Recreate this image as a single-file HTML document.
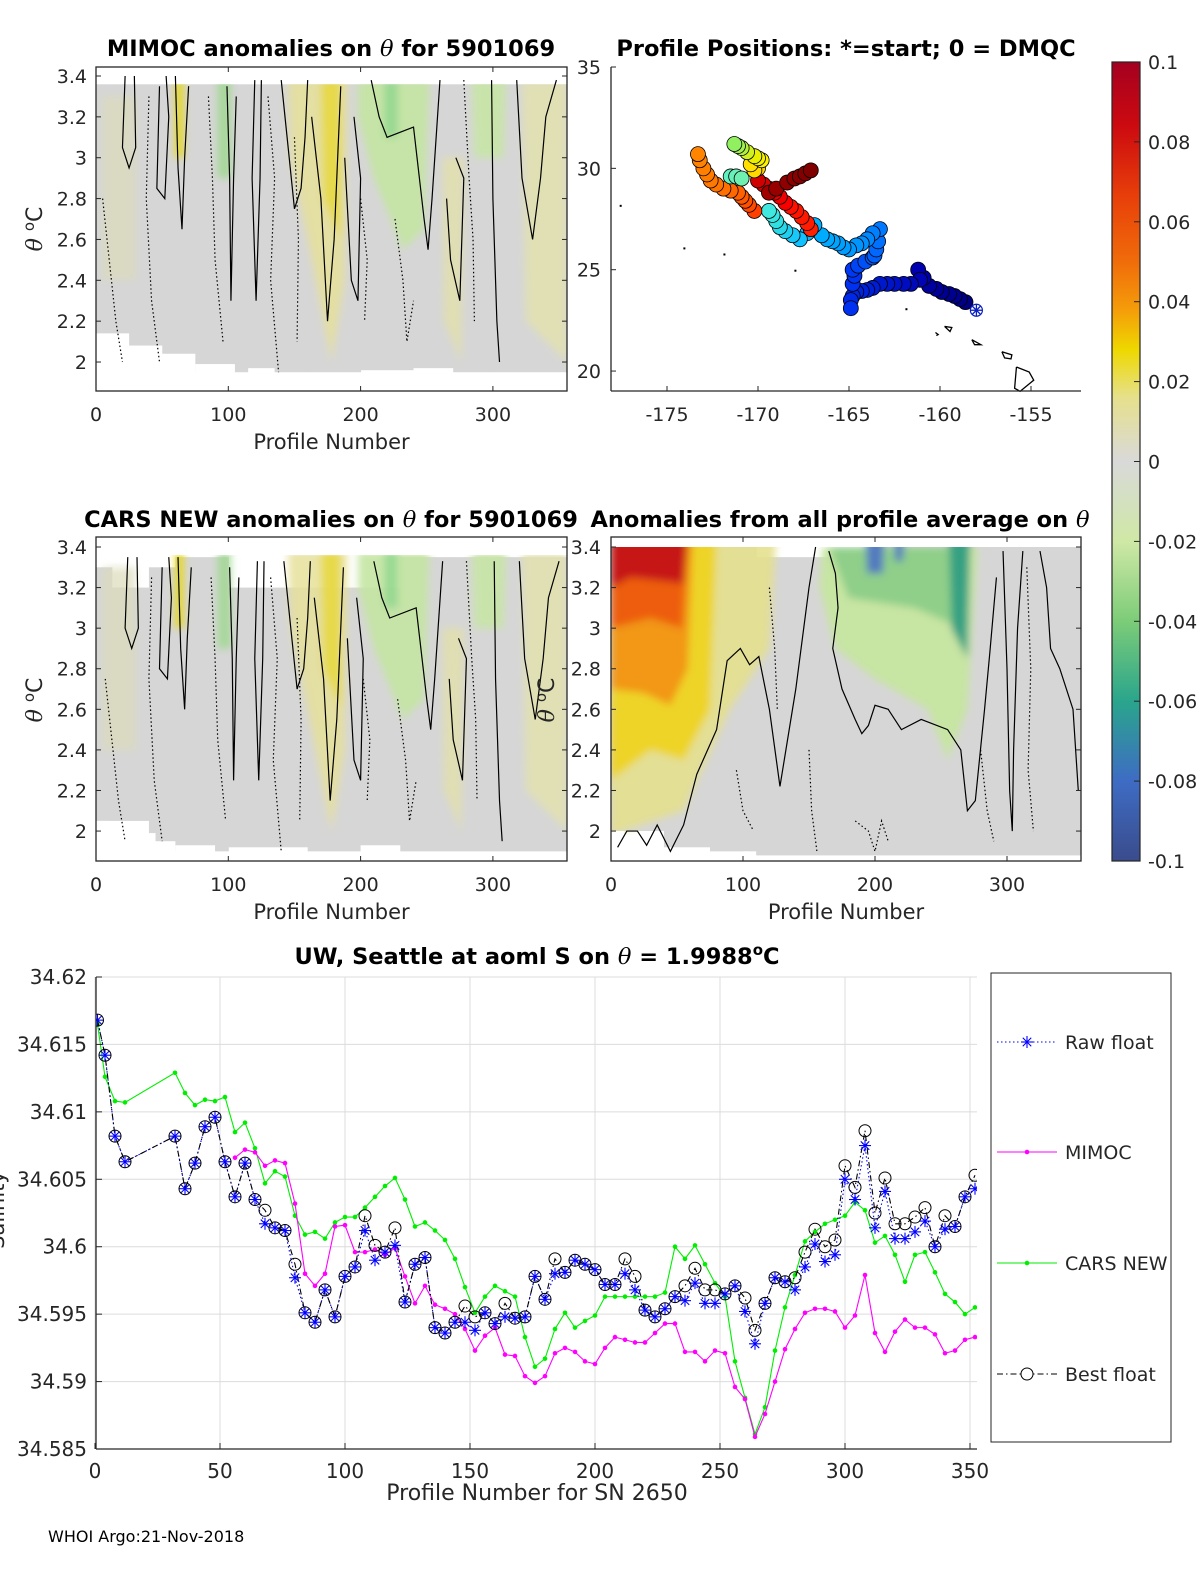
<!DOCTYPE html>
<html><head><meta charset="utf-8"><title>Argo float 5901069 QC figure</title>
<style>
html,body{margin:0;padding:0;background:#fff;}
svg{display:block;font-family:"DejaVu Sans","Liberation Sans",sans-serif;}
.tk{font-size:19px;fill:#262626;}
.ttl{font-size:22.5px;font-weight:bold;fill:#000;}
</style></head>
<body>
<svg id="fig" width="1200" height="1575" viewBox="0 0 1200 1575" xmlns="http://www.w3.org/2000/svg">
<defs>
<linearGradient id="cmap" x1="0" y1="0" x2="0" y2="1">
<stop offset="0" stop-color="#a50020"/><stop offset="0.08" stop-color="#cc0a10"/><stop offset="0.17" stop-color="#e8400a"/>
<stop offset="0.25" stop-color="#f06c0a"/><stop offset="0.31" stop-color="#f59c0a"/><stop offset="0.36" stop-color="#eed800"/>
<stop offset="0.42" stop-color="#e6e08c"/><stop offset="0.5" stop-color="#d9d9d9"/><stop offset="0.6" stop-color="#cfe8a6"/>
<stop offset="0.7" stop-color="#7ccc78"/><stop offset="0.8" stop-color="#2aa58c"/><stop offset="0.9" stop-color="#3e6cc4"/>
<stop offset="1" stop-color="#3a4c8c"/></linearGradient>
<filter id="blur4" x="-20%" y="-20%" width="140%" height="140%"><feGaussianBlur stdDeviation="4"/></filter>
<clipPath id="c1"><rect x="96" y="67" width="471" height="324"/></clipPath>
<clipPath id="c2"><rect x="96" y="537" width="471" height="324"/></clipPath>
<clipPath id="c4"><rect x="611" y="537" width="470" height="324"/></clipPath>
<clipPath id="c5"><rect x="96" y="977" width="881" height="472"/></clipPath>
</defs>
<g id="root"></g>
</svg>
<script>
// ---------- bottom salinity chart data ----------
const profiles = [1,4,8,12,32,36,40,44,48,52,56,60,64,68,72,76,80,84,88,92,96,100,104,108,112,116,120,124,128,132,136,140,144,148,152,156,160,164,168,172,176,180,184,188,192,196,200,204,208,212,216,220,224,228,232,236,240,244,248,252,256,260,264,268,272,276,280,284,288,292,296,300,304,308,312,316,320,324,328,332,336,340,344,348,352];
const bestFloat = [34.6168,34.6142,34.6082,34.6063,34.6082,34.6043,34.6062,34.6089,34.6096,34.6063,34.6037,34.6062,34.6035,34.6027,34.6014,34.6012,34.5987,34.5951,34.5944,34.5968,34.5948,34.5978,34.5985,34.6023,34.6001,34.5996,34.6014,34.5959,34.5987,34.5992,34.5940,34.5936,34.5944,34.5956,34.5948,34.5951,34.5943,34.5958,34.5947,34.5948,34.5978,34.5961,34.5991,34.5981,34.5990,34.5987,34.5983,34.5972,34.5972,34.5991,34.5978,34.5953,34.5948,34.5954,34.5963,34.5971,34.5984,34.5968,34.5968,34.5965,34.5971,34.5962,34.5938,34.5958,34.5977,34.5974,34.5977,34.5996,34.6013,34.6000,34.6005,34.6060,34.6044,34.6086,34.6025,34.6051,34.6017,34.6017,34.6022,34.6029,34.6000,34.6023,34.6015,34.6037,34.6053];
const rawFloat = [34.6168,34.6142,34.6082,34.6063,34.6082,34.6043,34.6062,34.6089,34.6096,34.6063,34.6037,34.6062,34.6035,34.6017,34.6014,34.6012,34.5977,34.5951,34.5944,34.5968,34.5948,34.5978,34.5985,34.6012,34.5990,34.5996,34.6001,34.5959,34.5987,34.5992,34.5940,34.5936,34.5944,34.5944,34.5938,34.5951,34.5943,34.5948,34.5947,34.5948,34.5978,34.5961,34.5980,34.5981,34.5990,34.5987,34.5983,34.5972,34.5972,34.5980,34.5968,34.5953,34.5948,34.5954,34.5963,34.5960,34.5973,34.5958,34.5958,34.5965,34.5971,34.5952,34.5928,34.5958,34.5977,34.5974,34.5968,34.5985,34.6002,34.5989,34.5994,34.6050,34.6035,34.6075,34.6014,34.6041,34.6006,34.6006,34.6011,34.6019,34.6000,34.6013,34.6015,34.6037,34.6043];
const carsNew = [34.6165,34.6126,34.6108,34.6107,34.6129,34.6114,34.6105,34.6109,34.6108,34.6111,34.6085,34.6092,34.6073,34.6047,34.6056,34.6052,34.6023,34.6009,34.6011,34.6006,34.6018,34.6022,34.6022,34.6029,34.6037,34.6045,34.6051,34.6035,34.6015,34.6018,34.6012,34.6005,34.5991,34.5970,34.5951,34.5963,34.5971,34.5967,34.5963,34.5933,34.5911,34.5917,34.5939,34.5951,34.5940,34.5945,34.5949,34.5963,34.5963,34.5963,34.5963,34.5963,34.5963,34.5966,34.6000,34.5991,34.6001,34.5987,34.5973,34.5963,34.5915,34.5888,34.5861,34.5881,34.5923,34.5955,34.5979,34.6004,34.6011,34.6017,34.6020,34.6023,34.6033,34.6027,34.6003,34.6008,34.5994,34.5974,34.5994,34.5996,34.5981,34.5965,34.5959,34.5950,34.5955];
const mimocProfiles = [56,60,64,68,72,76,80,84,88,92,96,100,104,108,112,116,120,124,128,132,136,140,144,148,152,156,160,164,168,172,176,180,184,188,192,196,200,204,208,212,216,220,224,228,232,236,240,244,248,252,256,260,264,268,272,276,280,284,288,292,296,300,304,308,312,316,320,324,328,332,336,340,344,348,352];
const mimoc = [34.6066,34.6072,34.6070,34.6060,34.6064,34.6062,34.6032,34.5980,34.5971,34.5980,34.6015,34.6016,34.5996,34.5996,34.5998,34.5994,34.5999,34.5978,34.5958,34.5971,34.5957,34.5954,34.5950,34.5939,34.5923,34.5934,34.5940,34.5920,34.5919,34.5904,34.5899,34.5904,34.5921,34.5925,34.5922,34.5915,34.5913,34.5925,34.5933,34.5931,34.5929,34.5929,34.5936,34.5943,34.5943,34.5922,34.5922,34.5915,34.5923,34.5921,34.5896,34.5887,34.5859,34.5876,34.5900,34.5924,34.5939,34.5951,34.5954,34.5954,34.5952,34.5940,34.5949,34.5979,34.5936,34.5922,34.5937,34.5946,34.5940,34.5940,34.5935,34.5921,34.5923,34.5931,34.5933];
const salXTicks = [0,50,100,150,200,250,300,350];
const salYTicks = [34.585,34.59,34.595,34.6,34.605,34.61,34.615,34.62];
const salYLabels = ["34.585","34.59","34.595","34.6","34.605","34.61","34.615","34.62"];

// ---------- map data ----------
const trackLon = [-158.6,-158.9,-159.2,-159.5,-159.9,-160.2,-160.6,-160.9,-161.2,-161.1,-161.6,-162.0,-162.5,-162.9,-163.3,-163.7,-164.0,-164.3,-164.6,-164.8,-164.9,-164.9,-164.8,-164.7,-164.8,-164.5,-164.1,-163.7,-163.6,-163.5,-163.4,-163.3,-163.7,-164.0,-164.3,-164.6,-165.0,-165.3,-165.6,-165.9,-166.2,-166.5,-166.9,-167.3,-167.7,-168.1,-168.5,-168.8,-169.0,-169.2,-169.4,-167.1,-167.3,-167.6,-167.9,-168.2,-168.5,-168.8,-169.1,-169.4,-169.7,-170.0,-170.2,-170.5,-170.7,-170.9,-171.1,-171.5,-171.9,-172.3,-172.6,-172.8,-173.0,-173.2,-173.3,-171.5,-171.2,-170.9,-170.0,-170.2,-170.4,-169.8,-170.0,-170.2,-170.6,-170.9,-171.1,-171.3,-169.4,-169.0,-168.4,-168.0,-167.7,-167.4,-167.1];
const trackLat = [23.4,23.55,23.7,23.8,23.9,24.05,24.2,24.6,25.0,24.5,24.3,24.3,24.3,24.3,24.3,24.1,24.0,23.95,23.9,23.7,23.5,23.1,24.3,24.7,25.0,25.2,25.4,25.6,25.7,26.0,26.4,27.0,26.8,26.5,26.3,26.2,26.0,26.1,26.3,26.4,26.5,26.7,27.2,26.8,26.5,26.7,26.9,27.1,27.4,27.7,27.9,27.0,27.3,27.6,27.9,28.1,28.3,28.6,28.8,29.0,29.2,29.4,27.9,28.2,28.4,28.6,28.8,28.9,29.0,29.2,29.4,29.7,30.0,30.4,30.7,29.6,29.6,29.5,30.0,29.9,30.2,30.4,30.5,30.6,30.8,31.0,31.1,31.2,28.8,29.0,29.3,29.5,29.6,29.75,29.9];
const trackColor = ["#00007e","#000084","#00008c","#00008e","#000090","#000098","#00009e","#0000a8","#0000b0","#0004b4","#0008b8","#000cc0","#0010c4","#0014c8","#0018cc","#001cd4","#0020d8","#0022dc","#0024e0","#0026e4","#0028e8","#0030f0","#0030f0","#0034f2","#0038f4","#0044f6","#0050f8","#0058fa","#0060fc","#0068fe","#0070ff","#0078ff","#0080ff","#0088ff","#0090ff","#0094ff","#0098ff","#009cff","#00a0ff","#00a4ff","#00a8ff","#00acff","#00b0ff","#08b8ff","#10c0ff","#18c8f8","#20d0f0","#28d8e8","#30e0e0","#38e4e0","#40e8e0","#ff2000","#ff1c00","#ff1800","#ff1400","#ff1000","#f80000","#f00000","#e80000","#e00000","#d80000","#d00000","#ff4000","#ff4800","#ff5000","#ff5800","#ff6000","#ff6800","#ff7000","#ff7400","#ff7800","#ff7c00","#ff8000","#ff8200","#ff8400","#60f0c0","#68f0b8","#70f0b0","#ffd000","#ffd800","#ffe000","#fff000","#f4f000","#e8f000","#d0f020","#b0f040","#a0f050","#90f060","#a00000","#980000","#900000","#8c0000","#880000","#840000","#800000"];
const latTicks = [20,25,30,35];
const lonTicks = [-175,-170,-165,-160,-155];

// ---------- heatmap panel descriptors (profile, theta units) ----------
const thetaTicks = [2,2.2,2.4,2.6,2.8,3,3.2,3.4];
const thetaLabels = ["2","2.2","2.4","2.6","2.8","3","3.2","3.4"];
const profTicks = [0,100,200,300];
const cbarTicks = [0.1,0.08,0.06,0.04,0.02,0,-0.02,-0.04,-0.06,-0.08,-0.1];
const cbarLabels = ["0.1","0.08","0.06","0.04","0.02","0","-0.02","-0.04","-0.06","-0.08","-0.1"];

const NS="http://www.w3.org/2000/svg";
const root=document.getElementById('root');
function mk(tag,attrs,parent){const e=document.createElementNS(NS,tag);for(const k in attrs)e.setAttribute(k,attrs[k]);(parent||root).appendChild(e);return e;}
function txt(x,y,s,cls,anchor,parent){const t=mk('text',{x:x,y:y,'class':cls,'text-anchor':anchor||'middle'},parent);t.textContent=s;return t;}

function panel(cfg){
  const g=mk('g',{});
  
  
  const X=p=>cfg.x0+p*cfg.kx, Y=t=>cfg.yTop34+(3.4-t)*cfg.ky;
  const inner=mk('g',{'clip-path':'url(#'+cfg.clip+')'},g);
  for(let i=0;i<cfg.cols.length;i++){
    const c=cfg.cols[i];
    const r=mk('rect',{x:X(c[0]),y:Y(c[2]),width:X(c[1])-X(c[0])+0.5,height:Y(c[3])-Y(c[2]),fill:'#d6d6d6'},inner);
    
    
  }
  const blobs=mk('g',{filter:'url(#blur4)'},inner);
  cfg.blobs.forEach(b=>{
    const pts=b.pts.map(q=>X(q[0])+','+Y(q[1])).join(' ');
    const pg=mk('polygon',{points:pts,fill:b.c,opacity:b.o},blobs);
    
    
  });
  cfg.masks.forEach(m=>{mk('rect',{x:X(m[0]),y:Y(m[2]),width:X(m[1])-X(m[0]),height:Y(m[3])-Y(m[2]),fill:'#fff'},inner);});
  cfg.contours.forEach(c=>{
    const pl=mk('polyline',{points:c.pts.map(q=>X(q[0])+','+Y(q[1])).join(' '),fill:'none',stroke:'#000','stroke-width':1.2,'stroke-dasharray':c.d?'1.5 2.5':'none'},inner);
    
    
  });
  const ax=mk('rect',{x:cfg.x0,y:cfg.top,width:cfg.w,height:324,fill:'none',stroke:'#262626','stroke-width':1.3},g);
  
  
  thetaTicks.forEach((t,i)=>{
    mk('line',{x1:cfg.x0,x2:cfg.x0+5,y1:Y(t),y2:Y(t),stroke:'#262626'},g);
    mk('line',{x1:cfg.x0+cfg.w,x2:cfg.x0+cfg.w-5,y1:Y(t),y2:Y(t),stroke:'#262626'},g);
    const l=txt(cfg.labX,Y(t)+7,thetaLabels[i],'tk','end',g);
    
    
  });
  profTicks.forEach(p=>{
    mk('line',{x1:X(p),x2:X(p),y1:cfg.top+324,y2:cfg.top+319,stroke:'#262626'},g);
    mk('line',{x1:X(p),x2:X(p),y1:cfg.top,y2:cfg.top+5,stroke:'#262626'},g);
    const l=txt(X(p),cfg.top+354,String(p),'tk','middle',g);
    
    
  });
  const xl=txt(cfg.x0+cfg.w/2,cfg.top+382,'Profile Number','tk','middle',g);
  xl.setAttribute('style','font-size:21px');
  
  
  return g;
}

const grayCols1=[[0,25,3.36,2.14],[25,50,3.36,2.08],[50,75,3.36,2.04],[75,105,3.36,1.95],[105,160,3.36,1.95],[160,200,3.36,1.95],[200,240,3.36,1.96],[240,300,3.36,1.95],[300,356,3.36,1.95]];
const masks1=[[0,356,3.45,3.36],[0,25,2.14,1.8],[25,50,2.08,1.8],[50,75,2.04,1.8],[75,105,1.99,1.8],[115,135,1.97,1.8],[240,270,1.97,1.8]];
const blobs1=[
 {pts:[[60,3.38],[66,3.38],[66,3.0],[60,3.0]],c:'#e8d800',o:0.9},
 {pts:[[92,3.38],[102,3.38],[102,2.9],[92,2.9]],c:'#9ad88a',o:0.8},
 {pts:[[145,3.38],[190,3.38],[188,2.4],[178,2.0],[160,2.6],[147,3.0]],c:'#e6e09a',o:0.85},
 {pts:[[170,3.38],[185,3.38],[185,2.6],[172,2.8]],c:'#e8d840',o:0.9},
 {pts:[[198,3.38],[252,3.38],[248,2.65],[232,2.55],[210,2.9],[198,3.2]],c:'#c4e6a2',o:0.9},
 {pts:[[218,3.38],[228,3.38],[228,3.1],[218,3.1]],c:'#8cd48c',o:0.8},
 {pts:[[262,3.0],[278,3.0],[276,2.0],[263,2.2]],c:'#e2e0aa',o:0.8},
 {pts:[[284,3.38],[310,3.38],[308,3.0],[286,3.0]],c:'#c8e6a6',o:0.9},
 {pts:[[322,3.38],[356,3.38],[356,2.0],[325,2.2]],c:'#e4e2ac',o:0.8},
 {pts:[[5,3.3],[30,3.3],[30,2.4],[5,2.4]],c:'#dcdcba',o:0.7}
];
const cont1=[
 {pts:[[22,3.4],[20,3.05],[25,2.95],[30,3.05],[29,3.4]]},{pts:[[48,3.35],[46,2.85],[52,2.8],[55,3.2],[53,3.4]]},
 {pts:[[60,3.4],[62,2.95],[65,2.65],[67,3.0],[70,3.35]]},{pts:[[99,3.35],[101,2.9],[102,2.3],[104,2.9],[106,3.3]]},
 {pts:[[120,3.38],[118,2.9],[121,2.3],[124,2.9],[125,3.38]]},{pts:[[140,3.38],[150,2.75],[155,2.85],[158,3.1],[160,3.38]]},
 {pts:[[163,3.2],[170,2.8],[175,2.2],[180,2.6],[185,3.35]]},{pts:[[188,3.0],[193,2.4],[198,2.3],[200,2.9],[195,3.2]]},
 {pts:[[208,3.38],[214,3.2],[220,3.1],[240,3.15],[248,2.7],[251,2.55],[254,2.8],[260,3.38]]},
 {pts:[[265,2.8],[268,2.5],[275,2.3],[278,2.9],[272,3.0]]},{pts:[[299,3.38],[300,2.8],[303,2.2],[305,2.0]]},
 {pts:[[318,3.38],[322,2.9],[330,2.6],[336,2.9],[340,3.2],[348,3.38]]},
 {pts:[[5,2.8],[10,2.5],[15,2.2],[20,2.0]],d:1},{pts:[[40,3.3],[38,2.8],[42,2.3],[48,2.0]],d:1},
 {pts:[[85,3.3],[88,2.9],[90,2.5],[96,2.1]],d:1},{pts:[[130,3.3],[135,2.9],[132,2.4],[138,1.95]],d:1},
 {pts:[[150,3.1],[153,2.6],[152,2.1]],d:1},{pts:[[226,2.7],[232,2.4],[235,2.1],[240,2.3]],d:1},
 {pts:[[278,3.38],[282,2.9],[285,2.6],[286,2.2]],d:1},{pts:[[200,2.8],[205,2.5],[203,2.2]],d:1}
];
root.appendChild(panel({name:'mimoc-anomaly-panel',x0:96,kx:1.323,yTop34:76,ky:204.3,top:67,w:471,clip:'c1',labX:87,cols:grayCols1,masks:masks1,blobs:blobs1,contours:cont1}));

const grayCols2=[[0,12,3.3,2.05],[12,40,3.2,2.05],[40,60,3.3,1.95],[60,100,3.35,1.9],[100,160,3.2,1.92],[160,230,3.2,1.9],[230,270,3.35,1.9],[270,356,3.35,1.9]];
const masks2=[[0,356,3.45,3.36],[0,10,2.05,1.8],[10,45,1.99,1.8],[60,90,1.93,1.8],[200,230,1.93,1.8]];
const blobs2=blobs1.map(b=>({pts:b.pts,c:b.c,o:b.o}));
const cont2=cont1.map(c=>({pts:c.pts.map(q=>[q[0]+2,q[1]-0.05]),d:c.d}));
root.appendChild(panel({name:'cars-anomaly-panel',x0:96,kx:1.323,yTop34:547,ky:202.9,top:537,w:471,clip:'c2',labX:87,cols:grayCols2,masks:masks2,blobs:blobs2,contours:cont2}));

const grayCols4=[[0,40,3.4,2.0],[40,75,3.4,1.92],[75,110,3.4,1.9],[110,200,3.35,1.88],[200,290,3.4,1.88],[290,356,3.4,1.88]];
const masks4=[[0,356,3.45,3.4],[0,10,2.0,1.8],[10,20,1.98,1.8],[20,40,2.0,1.8],[100,105,1.9,1.8],[140,160,1.86,1.8]];
const blobs4=[
 {pts:[[0,3.44],[125,3.44],[120,2.9],[90,2.6],[55,2.1],[0,1.98]],c:'#e4e08e',o:0.9},
 {pts:[[0,3.44],[80,3.44],[75,2.6],[55,2.35],[30,2.4],[0,2.25]],c:'#eed320',o:0.95},
 {pts:[[0,3.44],[62,3.44],[58,2.8],[45,2.62],[25,2.68],[0,2.7]],c:'#f29418',o:0.95},
 {pts:[[0,3.44],[58,3.44],[54,3.0],[30,3.05],[0,3.0]],c:'#ec5a10',o:0.95},
 {pts:[[0,3.44],[58,3.44],[55,3.22],[15,3.25],[0,3.2]],c:'#c4101a',o:0.95},
 {pts:[[160,3.4],[278,3.4],[270,2.6],[255,2.35],[240,2.6],[200,2.75],[170,2.9],[158,3.2]],c:'#c6e6a0',o:0.95},
 {pts:[[165,3.4],[272,3.4],[266,3.0],[230,3.1],[180,3.15]],c:'#8ccf88',o:0.95},
 {pts:[[256,3.44],[272,3.44],[270,2.85],[258,3.0]],c:'#2f9e82',o:0.95},
 {pts:[[193,3.44],[207,3.44],[206,3.27],[194,3.27]],c:'#4b70c4',o:0.9},
 {pts:[[215,3.44],[222,3.44],[221,3.33],[215,3.33]],c:'#4b70c4',o:0.9}
];
const cont4=[
 {pts:[[5,1.92],[12,2.0],[20,2.0],[27,1.93],[35,2.03],[45,1.9],[55,2.03],[65,2.28],[80,2.5],[88,2.84],[98,2.9],[105,2.82],[112,2.86],[120,2.6],[128,2.22],[140,2.7],[150,3.2],[155,3.4]]},
 {pts:[[165,3.38],[170,3.27],[172,3.1],[168,2.9],[175,2.7],[185,2.55],[190,2.48],[195,2.52],[200,2.62],[210,2.6],[220,2.5],[235,2.55],[255,2.5],[265,2.4],[270,2.1],[276,2.15],[283,2.6],[287,2.88],[292,3.25]]},
 {pts:[[297,3.38],[300,2.8],[302,2.2],[304,2.0],[305,2.4],[308,3.0],[312,3.38]]},
 {pts:[[325,3.38],[330,3.2],[333,2.9],[340,2.8],[350,2.6],[354,2.2]]},
 {pts:[[120,3.2],[124,2.9],[126,2.6]],d:1},{pts:[[150,2.4],[152,2.1],[156,1.9]],d:1},
 {pts:[[185,2.05],[195,2.0],[200,1.9],[205,2.05],[210,1.95]],d:1},{pts:[[280,2.4],[285,2.1],[290,1.95]],d:1},
 {pts:[[315,3.3],[318,2.8],[316,2.3],[320,2.0]],d:1},{pts:[[95,2.3],[100,2.1],[108,2.0]],d:1}
];
root.appendChild(panel({name:'profile-average-anomaly-panel',x0:611,kx:1.32,yTop34:547,ky:202.9,top:537,w:470,clip:'c4',labX:601,cols:grayCols4,masks:masks4,blobs:blobs4,contours:cont4}));

// ---- map panel ----
(function(){
  const g=mk('g',{});
  
  
  const X=lon=>667+(lon+175)*18.2, Y=lat=>67+(35-lat)*20.27;
  const isl=[[[-155.8,20.2],[-155.1,19.95],[-154.85,19.55],[-155.6,19.0],[-155.9,19.15],[-155.8,20.2]],
    [[-156.6,20.95],[-156.05,20.8],[-156.1,20.6],[-156.45,20.65],[-156.6,20.95]],
    [[-158.25,21.55],[-157.75,21.3],[-158.1,21.3],[-158.25,21.55]],[[-159.75,22.2],[-159.35,22.15],[-159.45,21.95],[-159.75,22.2]],
    [[-160.25,21.9],[-160.1,21.8],[-160.2,21.75]]];
  isl.forEach(s=>{const p=mk('polyline',{points:s.map(q=>X(q[0])+','+Y(q[1])).join(' '),fill:'none',stroke:'#000','stroke-width':1.3},g);
    
    });
  [[-177.6,28.2],[-174.1,26.1],[-171.9,25.8],[-168.0,25.0],[-161.9,23.1]].forEach(q=>mk('rect',{x:X(q[0]),y:Y(q[1]),width:2,height:2,fill:'#000'},g));
  for(let i=0;i<trackLon.length;i++){
    const c=mk('circle',{cx:X(trackLon[i]),cy:Y(trackLat[i]),r:7.5,fill:trackColor[i],stroke:'#000','stroke-width':0.8},g);
    
    
  }
  const sx=X(-158.0),sy=Y(23.0);
  mk('circle',{cx:sx,cy:sy,r:6,fill:'#fff',stroke:'#0a20c0','stroke-width':1.2},g);
  for(let a=0;a<4;a++){const an=a*Math.PI/4;mk('line',{x1:sx-6*Math.cos(an),y1:sy-6*Math.sin(an),x2:sx+6*Math.cos(an),y2:sy+6*Math.sin(an),stroke:'#0a20c0','stroke-width':1.3},g);}
  mk('line',{x1:611,y1:67,x2:611,y2:391,stroke:'#262626','stroke-width':1.3},g);
  mk('line',{x1:611,y1:391,x2:1081,y2:391,stroke:'#262626','stroke-width':1.3},g);
  latTicks.forEach(t=>{mk('line',{x1:611,x2:616,y1:Y(t),y2:Y(t),stroke:'#262626'},g);
    const l=txt(601,Y(t)+7,String(t),'tk','end',g);
    
    });
  lonTicks.forEach(t=>{mk('line',{x1:X(t),x2:X(t),y1:391,y2:386,stroke:'#262626'},g);
    const l=txt(X(t),421,String(t),'tk','middle',g);
    
    });
})();

// ---- colorbar ----
(function(){
  const g=mk('g',{});
  
  
  mk('rect',{x:1112,y:62,width:28,height:799,fill:'url(#cmap)',stroke:'#262626','stroke-width':1.2},g);
  const Y=v=>62+(0.1-v)*3995;
  cbarTicks.forEach((v,i)=>{mk('line',{x1:1134,x2:1140,y1:Y(v),y2:Y(v),stroke:'#262626'},g);
    const l=txt(1148,Y(v)+7,cbarLabels[i],'tk','start',g);
    
    });
})();

function title(x,y,parts,name){const t=mk('text',{x:x,y:y,'class':'ttl','text-anchor':'middle'});
  
  
  parts.forEach(p=>{const s=mk('tspan',p.i?{'font-style':'italic','font-weight':'normal','font-family':'"DejaVu Serif",serif'}:{},t);s.textContent=p.s;});}
title(331,56,[{s:'MIMOC anomalies on '},{s:'θ',i:1},{s:'  for 5901069'}],'mimoc-panel-title');
title(846,56,[{s:'Profile Positions: *=start; 0 = DMQC'}],'map-title');
title(331,527,[{s:'CARS NEW anomalies on '},{s:'θ',i:1},{s:' for 5901069'}],'cars-panel-title');
title(840,527,[{s:'Anomalies from all profile average on '},{s:'θ',i:1}],'profile-average-title');
function ylab(x,y,name){const t=mk('text',{x:0,y:0,'class':'tk','text-anchor':'middle',transform:'translate('+x+','+y+') rotate(-90)',style:'font-size:22px'});
  
  
  const a=mk('tspan',{'font-style':'italic','font-family':'"DejaVu Serif",serif'},t);a.textContent='θ ';
  const b=mk('tspan',{'dy':-8,'font-size':'15px'},t);b.textContent='o';
  const c=mk('tspan',{'dy':8},t);c.textContent='C';}
ylab(42,229,'mimoc-y-axis-title');ylab(42,700,'cars-y-axis-title');ylab(554,700,'average-y-axis-title');

// ---- salinity chart ----
(function(){
  const g=mk('g',{});
  
  
  const X=p=>95+p*2.5, Y=v=>977+(34.62-v)*13486;
  salXTicks.forEach(t=>{mk('line',{x1:X(t),x2:X(t),y1:977,y2:1449,stroke:'#dcdcdc','stroke-width':1},g);});
  salYTicks.forEach(t=>{mk('line',{x1:96,x2:977,y1:Y(t),y2:Y(t),stroke:'#dcdcdc','stroke-width':1},g);});
  const inner=mk('g',{'clip-path':'url(#c5)'},g);
  function line(px,vals,color,dash,name){const p=mk('polyline',{points:vals.map((v,i)=>X(px[i])+','+Y(v)).join(' '),fill:'none',stroke:color,'stroke-width':1.1,'stroke-dasharray':dash||'none'},inner);
    
    }
  line(profiles,carsNew,'#00ee00',null,'cars-new-line');
  carsNew.forEach((v,i)=>{const c=mk('circle',{cx:X(profiles[i]),cy:Y(v),r:2.3,fill:'#00ee00'},inner);
    
    });
  line(mimocProfiles,mimoc,'#ff00ff',null,'mimoc-line');
  mimoc.forEach((v,i)=>{const c=mk('circle',{cx:X(mimocProfiles[i]),cy:Y(v),r:2.3,fill:'#ff00ff'},inner);
    
    });
  line(profiles,rawFloat,'#0000ff','1.5 2.5','raw-float-line');
  line(profiles,bestFloat,'#000','6 3 1.5 3','best-float-line');
  function star(x,y,parent){for(let a=0;a<4;a++){const an=a*Math.PI/4+Math.PI/2;mk('line',{x1:x-6*Math.cos(an),y1:y-6*Math.sin(an),x2:x+6*Math.cos(an),y2:y+6*Math.sin(an),stroke:'#0000ff','stroke-width':1.1},parent);}}
  rawFloat.forEach((v,i)=>{const s=mk('g',{},inner);
    
    
    star(X(profiles[i]),Y(v),s);});
  bestFloat.forEach((v,i)=>{const c=mk('circle',{cx:X(profiles[i]),cy:Y(v),r:6,fill:'none',stroke:'#000','stroke-width':1},inner);
    
    });
  mk('line',{x1:96,y1:977,x2:96,y2:1449,stroke:'#262626','stroke-width':1.3},g);
  mk('line',{x1:96,y1:1449,x2:977,y2:1449,stroke:'#262626','stroke-width':1.3},g);
  salXTicks.forEach(t=>{mk('line',{x1:X(t),x2:X(t),y1:1449,y2:1443,stroke:'#262626'},g);
    const l=txt(X(t),1478,String(t),'tk','middle',g);l.setAttribute('style','font-size:20px');
    
    });
  salYTicks.forEach((t,i)=>{mk('line',{x1:96,x2:102,y1:Y(t),y2:Y(t),stroke:'#262626'},g);
    const l=txt(87,Y(t)+7,salYLabels[i],'tk','end',g);l.setAttribute('style','font-size:20px');
    
    });
  const xt=txt(537,1500,'Profile Number for SN 2650','tk','middle',g);xt.setAttribute('style','font-size:22px');
  
  
  const yt=mk('text',{x:0,y:0,'class':'tk','text-anchor':'middle',transform:'translate(4,1210) rotate(-90)',style:'font-size:21px'},g);yt.textContent='Salinity';
  
  
  const t=mk('text',{x:537,y:964,'class':'ttl','text-anchor':'middle'},g);
  
  
  const a=mk('tspan',{},t);a.textContent='UW, Seattle at aoml S on ';
  const b=mk('tspan',{'font-style':'italic','font-weight':'normal','font-family':'"DejaVu Serif",serif'},t);b.textContent='θ';
  const c=mk('tspan',{},t);c.textContent=' = 1.9988';
  const d=mk('tspan',{dy:-9,'font-size':'15px'},t);d.textContent='o';
  const e=mk('tspan',{dy:9},t);e.textContent='C';
  const lg=mk('g',{},g);
  
  
  mk('rect',{x:991,y:973,width:180,height:469,fill:'#fff',stroke:'#262626','stroke-width':1},lg);
  const ent=[['Raw float',1042,'#0000ff','1.5 2.5','star'],['MIMOC',1152,'#ff00ff',null,'dot'],['CARS NEW',1263,'#00ee00',null,'dot'],['Best float',1374,'#000','6 3 1.5 3','circ']];
  ent.forEach(en=>{const eg=mk('g',{},lg);
    
    
    mk('line',{x1:997,x2:1057,y1:en[1],y2:en[1],stroke:en[2],'stroke-width':1.1,'stroke-dasharray':en[3]||'none'},eg);
    if(en[4]==='star')star(1027,en[1],eg);
    if(en[4]==='dot')mk('circle',{cx:1027,cy:en[1],r:2.3,fill:en[2]},eg);
    if(en[4]==='circ')mk('circle',{cx:1027,cy:en[1],r:6,fill:'#fff',stroke:'#000'},eg);
    const l=txt(1065,en[1]+7,en[0],'tk','start',eg);l.setAttribute('style','font-size:19px');});
})();
const foot=txt(48,1542,'WHOI Argo:21-Nov-2018','tk','start');
foot.setAttribute('style','font-size:16px;fill:#000');


</script>
</body></html>
